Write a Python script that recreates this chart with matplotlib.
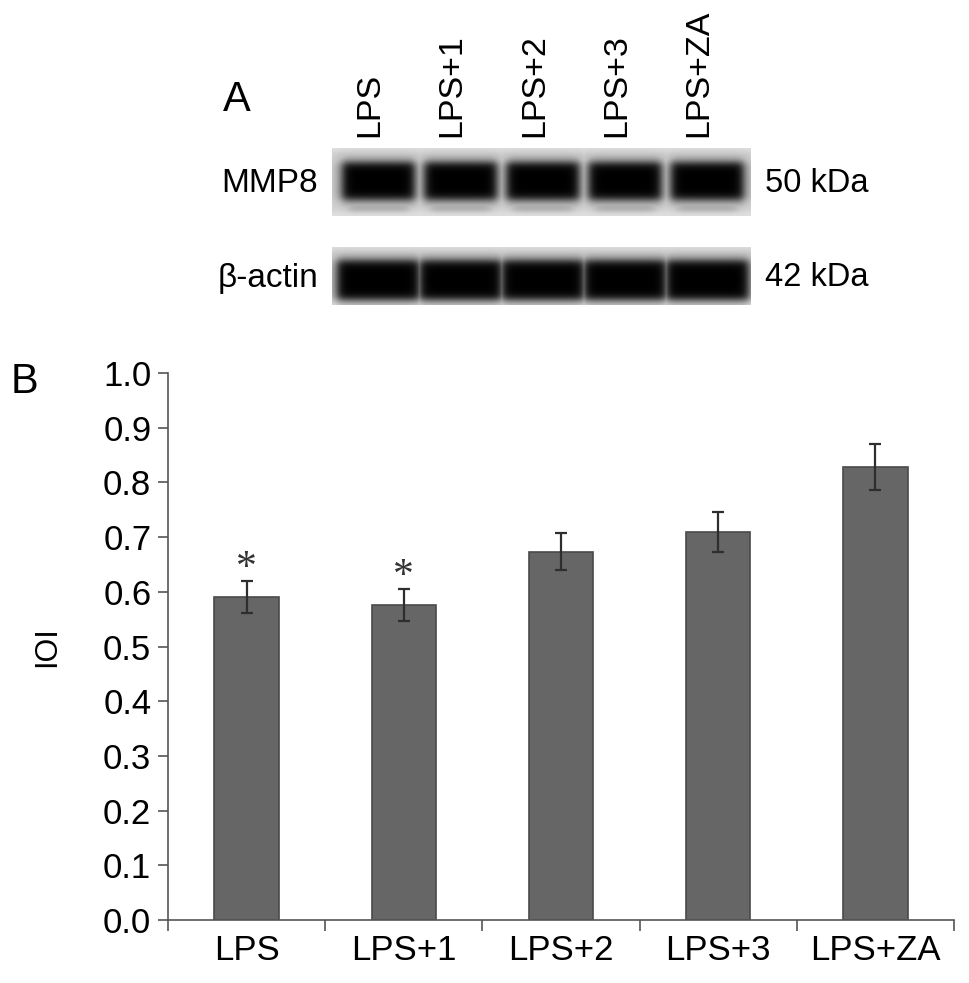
import numpy as np
import matplotlib
matplotlib.use("Agg")
import matplotlib.pyplot as plt

plt.rcParams['font.family'] = ['Liberation Sans', 'DejaVu Sans']

# panel B data
categories = ['LPS', 'LPS+1', 'LPS+2', 'LPS+3', 'LPS+ZA']
ioi = [0.591, 0.576, 0.673, 0.709, 0.828]
ioi_err = [0.029, 0.029, 0.034, 0.036, 0.042]
significant = [True, True, False, False, False]

# panel A labels
blot_rows = ['MMP8', 'β-actin']
blot_sizes = ['50 kDa', '42 kDa']

W, H = 969, 983


def px_axes(fig, x0, y0, x1, y1):
    # axes from pixel box (top-left origin)
    return fig.add_axes([x0 / W, 1 - y1 / H, (x1 - x0) / W, (y1 - y0) / H])


def soft(x, a, b, s):
    return 0.5 * (np.tanh((x - a) / s) - np.tanh((x - b) / s))


def blot_image(width, height, band_top, band_bot, half_w, faint=False):
    xx = np.arange(width)[None, :]
    yy = np.arange(height)[:, None]
    img = np.full((height, width), 0.88)
    img -= 0.06 * soft(yy, 3, height - 5, 4)
    dens = np.zeros((height, width))
    for i in range(5):
        c = 46 + i * 82.2
        halo = 0.18 * soft(xx, c - half_w - 6, c + half_w + 6, 6) * soft(yy, band_top - 8, band_bot + 6, 6)
        core = soft(xx, c - half_w, c + half_w, 5) * soft(yy, band_top, band_bot, 4.5)
        dens = np.maximum(dens, np.maximum(halo, core ** 0.6))
        if faint:
            dens = np.maximum(dens, 0.2 * soft(xx, c - half_w + 4, c + half_w - 4, 6) * soft(yy, band_bot + 4, band_bot + 13, 3))
    img = img * (1 - dens)
    return np.clip(img, 0, 1)


fig = plt.figure(figsize=(W / 100, H / 100), dpi=100)

# ---- panel A: blot ----
blot_boxes = [(332, 148, 751, 216), (332, 247, 751, 305)]
blot_params = [(15, 50, 35, True), (14, 51, 40, False)]
for (x0, y0, x1, y1), (bt, bb, hw, fnt), name, size in zip(blot_boxes, blot_params, blot_rows, blot_sizes):
    bax = px_axes(fig, x0, y0, x1, y1)
    img = blot_image(x1 - x0, y1 - y0, bt, bb, hw, fnt)
    bax.imshow(img, cmap='gray', vmin=0, vmax=1, aspect='auto', interpolation='bilinear')
    bax.axis('off')
    yc = 1 - ((y0 + y1) / 2 + 2) / H
    fig.text(318 / W, yc, name, ha='right', va='center', fontsize=24)
    fig.text(765 / W, yc, size, ha='left', va='center', fontsize=23.5)

for i, lab in enumerate(categories):
    fig.text((332 + 46 + i * 82.2 - 8) / W, 1 - 137 / H, lab, rotation=90,
             ha='center', va='bottom', fontsize=24.5)

fig.text(237 / W, 1 - 100 / H, 'A', ha='center', va='center', fontsize=30)
fig.text(24 / W, 1 - 382 / H, 'B', ha='center', va='center', fontsize=30)

# ---- panel B: bars ----
ax = px_axes(fig, 168, 373, 954, 920)
x = np.arange(len(categories))
ax.bar(x, ioi, width=0.41, color='#666666', edgecolor='#4a4a4a', linewidth=1.2, zorder=2)
ax.errorbar(x, ioi, yerr=ioi_err, fmt='none', ecolor='#2e2e2e', elinewidth=1.6,
            capsize=4, capthick=1.6, zorder=3)
for xi, v, e, s in zip(x, ioi, ioi_err, significant):
    if s:
        ax.text(xi, v + e + 0.022, '*', ha='center', va='center', fontsize=30,
                family='Liberation Serif', color='#333333')

ax.set_xlim(-0.5, len(categories) - 0.5)
ax.set_ylim(0, 1.0)
ax.set_yticks(np.arange(0, 1.01, 0.1))
ax.set_yticklabels([f'{v:.1f}' for v in np.arange(0, 1.01, 0.1)], fontsize=25)
ax.set_xticks(x)
ax.set_xticklabels(categories, fontsize=25)
ax.tick_params(axis='x', length=0, pad=10)
ax.set_xticks(np.arange(-0.5, len(categories)), minor=True)
ax.tick_params(axis='x', which='minor', length=8, width=1.2, color='#555555', direction='out')
ax.tick_params(axis='y', length=7, width=1.2, color='#555555', pad=5)
for sp in ['top', 'right']:
    ax.spines[sp].set_visible(False)
for sp in ['left', 'bottom']:
    ax.spines[sp].set_color('#555555')
    ax.spines[sp].set_linewidth(1.2)
ax.set_ylabel('IOI', fontsize=22)
ax.yaxis.set_label_coords(-0.135, 0.5)

fig.savefig('out.png', dpi=100)
